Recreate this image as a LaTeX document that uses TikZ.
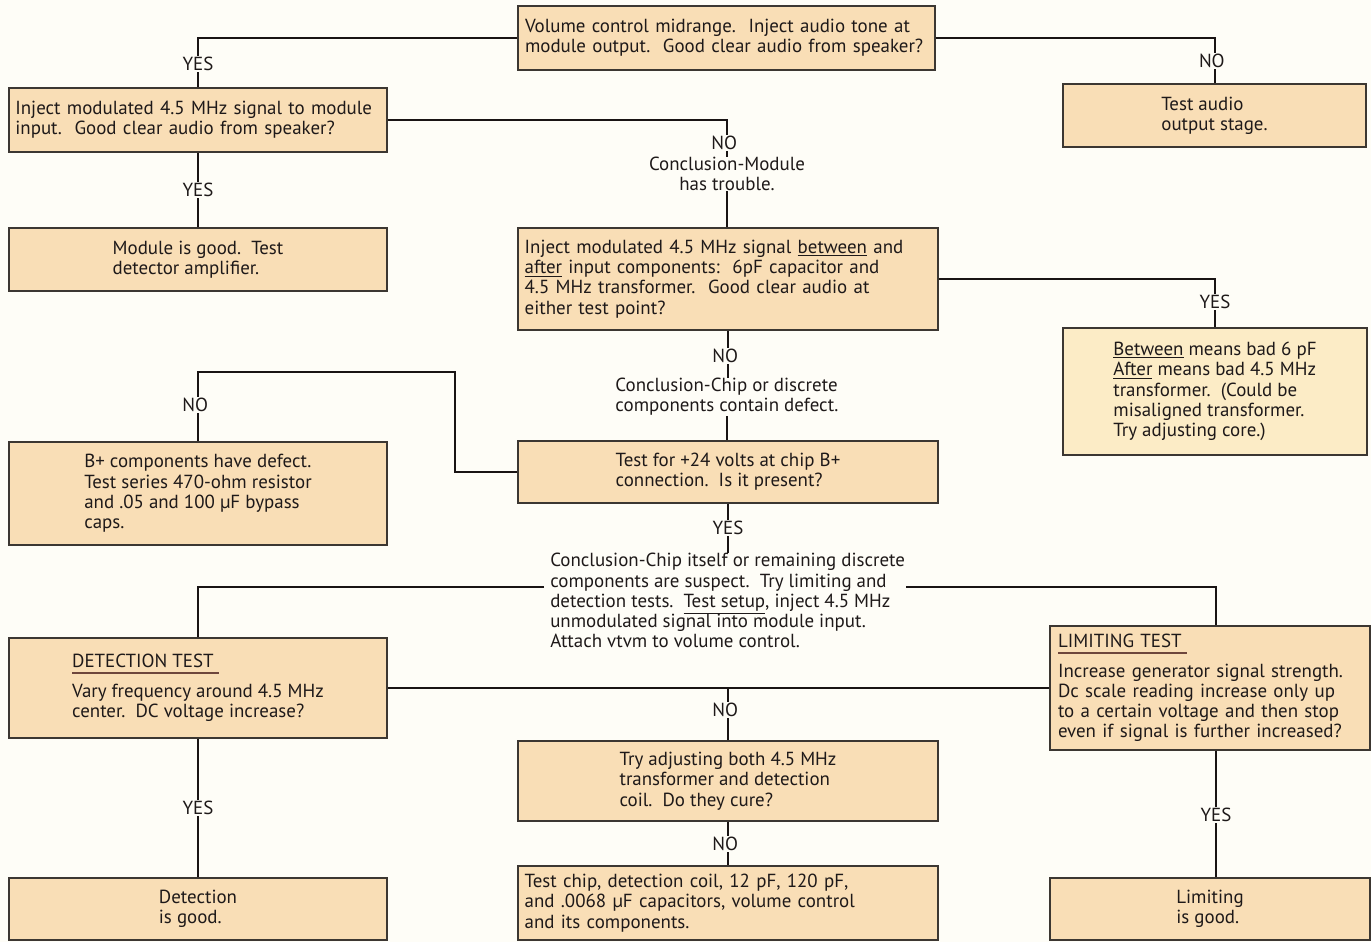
\documentclass[tikz,border=0pt]{standalone}
\usepackage{fontspec}
\setmainfont{PT Sans}
\usetikzlibrary{calc}
\definecolor{bg}{RGB}{254,253,247}
\definecolor{boxfill}{RGB}{249,222,182}
\definecolor{boxpale}{RGB}{252,236,198}
\definecolor{edge}{RGB}{60,55,50}
\definecolor{ink}{RGB}{25,20,20}
\definecolor{txt}{RGB}{30,25,25}
\definecolor{hdrline}{RGB}{110,70,60}
\newcommand{\mainfs}{\fontsize{14.2}{15.2}\selectfont\color{txt}}
\newsavebox{\hdrbox}
\newcommand{\hdr}[1]{\sbox{\hdrbox}{#1}\leavevmode\vtop{\offinterlineskip\copy\hdrbox\kern3pt\hbox{\textcolor{hdrline}{\rule{\dimexpr\wd\hdrbox+4pt\relax}{1.5pt}}}}}
\newcommand{\dsp}{\ \ }
\tikzset{
  fbox/.style={draw=edge, line width=0.9pt, fill=boxfill, inner sep=0pt, font=\mainfs, align=left},
  conn/.style={draw=ink, line width=1.5pt},
  lab/.style={fill=bg, inner sep=0.6pt, font=\mainfs},
  note/.style={inner sep=0pt, font=\mainfs}
}
\begin{document}
\begin{tikzpicture}[x=0.75pt,y=-0.75pt]
\fill[bg] (0,0) rectangle (1371,942);
\useasboundingbox (0,0) rectangle (1371,942);

% boxes
\node[fbox, minimum width=312.75pt, minimum height=48pt, text width=302.25pt] (T) at (726.5,38)
  {\mbox{Volume control midrange.\dsp Inject audio tone at}\\ \mbox{module output.\dsp Good clear audio from speaker?}};
\node[fbox, minimum width=227.25pt, minimum height=47.25pt] (TA) at (1214.5,115.5)
  {Test audio\\ output stage.};
\node[fbox, minimum width=283.5pt, minimum height=48pt, text width=274pt] (B2) at (198,120)
  {\mbox{Inject modulated 4.5 MHz signal to module}\\ \mbox{input.\dsp Good clear audio from speaker?}};
\node[note, align=center] (C1) at (727,174) {Conclusion-Module\\ has trouble.};
\node[fbox, minimum width=283.5pt, minimum height=47.25pt] (MG) at (198,259.5)
  {Module is good.\dsp Test\\ detector amplifier.};
\node[fbox, minimum width=315pt, minimum height=76.5pt, text width=305pt] (M1) at (728,279)
  {\mbox{Inject modulated 4.5 MHz signal \underline{between} and}\\ \mbox{\underline{after} input components:\dsp 6pF capacitor and}\\ \mbox{4.5 MHz transformer.\dsp Good clear audio at}\\ either test point?};
\node[fbox, fill=boxpale, minimum width=228pt, minimum height=95.25pt] (BT) at (1215,391.5)
  {\underline{Between} means bad 6 pF\\ \underline{After} means bad 4.5 MHz\\ transformer.\dsp (Could be\\ misaligned transformer.\\ Try adjusting core.)};
\node[note, align=left] (C2) at (727,397) {Conclusion-Chip or discrete\\ components contain defect.};
\node[fbox, minimum width=315pt, minimum height=46.5pt] (M2) at (728,472)
  {Test for +24 volts at chip B+\\ connection.\dsp Is it present?};
\node[fbox, minimum width=283.5pt, minimum height=77.25pt] (BP) at (198,493.5)
  {B+ components have defect.\\ Test series 470-ohm resistor\\ and .05 and 100 µF bypass\\ caps.};
\node[note, align=left, anchor=north west] (C3) at (550,553)
  {Conclusion-Chip itself or remaining discrete\\ components are suspect.\dsp Try limiting and\\ detection tests.\dsp \underline{Test setup}, inject 4.5 MHz\\ unmodulated signal into module input.\\ Attach vtvm to volume control.};
\node[fbox, minimum width=283.5pt, minimum height=75pt] (DET) at (198,688)
  {\hdr{DETECTION TEST}\\[7pt] Vary frequency around 4.5 MHz\\ center.\dsp DC voltage increase?};
\node[fbox, minimum width=240pt, minimum height=93pt, text width=228pt] (LIM) at (1210,688)
  {\hdr{LIMITING TEST}\\[7pt] \mbox{Increase generator signal strength.}\\ \mbox{Dc scale reading increase only up}\\ \mbox{to a certain voltage and then stop}\\ \mbox{even if signal is further increased?}};
\node[fbox, minimum width=315pt, minimum height=60pt] (TA2) at (728,781)
  {Try adjusting both 4.5 MHz\\ transformer and detection\\ coil.\dsp Do they cure?};
\node[fbox, minimum width=315pt, minimum height=55.5pt, text width=305pt] (TC) at (728,903)
  {\mbox{Test chip, detection coil, 12 pF, 120 pF,}\\ \mbox{and .0068 µF capacitors, volume control}\\ and its components.};
\node[fbox, minimum width=283.5pt, minimum height=46.5pt] (DG) at (198,909)
  {Detection\\ is good.};
\node[fbox, minimum width=240pt, minimum height=46.5pt] (LG) at (1210,909)
  {Limiting\\ is good.};

% helper coordinates
\coordinate (k1) at (455,372);
\coordinate (c3w) at (544,587);
\coordinate (c3e) at (906,587);
\coordinate (limn) at ([xshift=4.5pt]LIM.north);
\coordinate (lims) at ([xshift=4.5pt]LIM.south);

% connectors
\draw[conn] (T.west) -| (B2.north);
\draw[conn] (T.east) -| (TA.north);
\draw[conn] (B2.east) -| (C1.north);
\draw[conn] (C1.south) -- (C1.south |- M1.north);
\draw[conn] (B2.south) -- (MG.north);
\draw[conn] (M1.east) -| (BT.north);
\draw[conn] (M1.south) -- (M1.south |- C2.north);
\draw[conn] (C2.south) -- (C2.south |- M2.north);
\draw[conn] (M2.west) -| (k1) -| (BP.north);
\draw[conn] (M2.south) -- (M2.south |- C3.north);
\draw[conn] (c3w) -| (DET.north);
\draw[conn] (c3e) -| (limn);
\draw[conn] (DET.east) -- (DET.east -| LIM.west);
\draw[conn] (DET.east -| TA2.north) -- (TA2.north);
\draw[conn] (TA2.south) -- (TC.north);
\draw[conn] (DET.south) -- (DG.north);
\draw[conn] (lims) -- (lims |- LG.north);

% labels
\node[lab] (l1) at (198,64) {YES};
\node[lab, xshift=-2pt] (l2) at (1214.5,61) {NO};
\node[lab, xshift=-2pt] (l3) at (727,143) {NO};
\node[lab] (l4) at (198,190) {YES};
\node[lab] (l5) at (1215,302) {YES};
\node[lab, xshift=-2pt] (l6) at (728,356) {NO};
\node[lab, xshift=-2pt] (l7) at (198,405) {NO};
\node[lab] (l8) at (728,528) {YES};
\node[lab, xshift=-2pt] (l9) at (728,710) {NO};
\node[lab, xshift=-2pt] (l10) at (728,844) {NO};
\node[lab] (l11) at (198,808) {YES};
\node[lab] (l12) at (1216,815) {YES};
\end{tikzpicture}
\end{document}
